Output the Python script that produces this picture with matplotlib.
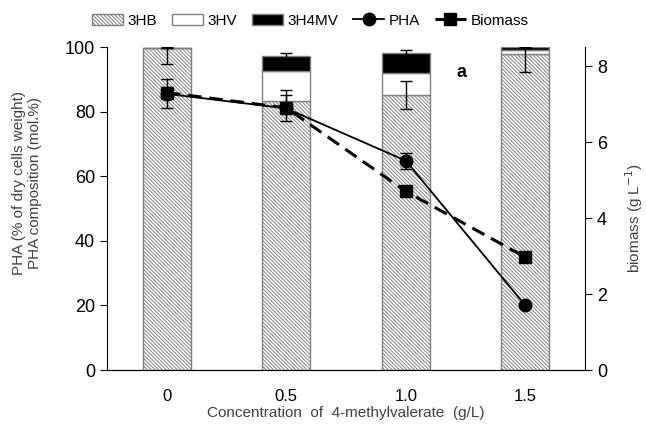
import matplotlib.pyplot as plt
import numpy as np

plt.rcParams['font.family'] = ['Liberation Sans', 'DejaVu Sans']
plt.rcParams['hatch.color'] = '#555555'
plt.rcParams['hatch.linewidth'] = 0.7

# data
conc = ["0", "0.5", "1.0", "1.5"]
hb = [99.7, 83.3, 85.1, 97.8]
hb_err_lo = [5.0, 3.5, 4.3, 5.4]
hb_err_hi = [0.3, 3.5, 4.3, 2.2]
hv = [0.0, 9.4, 6.7, 1.2]
h4mv = [0.0, 4.5, 6.2, 0.9]
h4mv_err = [0.0, 1.0, 1.0, 0.3]
pha = [85.5, 81.0, 64.8, 20.0]
pha_err = [4.5, 4.0, 2.5, 0.5]
biomass = [7.3, 6.9, 4.7, 2.97]
biomass_err = [0.15, 0.1, 0.1, 0.05]

x = np.arange(len(conc))
w = 0.4

fig = plt.figure(figsize=(6.46, 4.25), dpi=100)
ax = fig.add_axes([0.1656, 0.1294, 0.74, 0.76])

b1 = ax.bar(x, hb, w, color='white', edgecolor='#808080', hatch='\\' * 9, linewidth=1, label='3HB')
b2 = ax.bar(x, hv, w, bottom=hb, color='white', edgecolor='#808080', linewidth=1, label='3HV')
top2 = np.array(hb) + np.array(hv)
b3 = ax.bar(x, h4mv, w, bottom=top2, color='black', edgecolor='#808080', linewidth=1, label='3H4MV')

ax.errorbar(x, hb, yerr=[hb_err_lo, hb_err_hi], fmt='none', ecolor='black', elinewidth=1, capsize=4)
ax.errorbar(x, top2 + np.array(h4mv), yerr=h4mv_err, fmt='none', ecolor='black', elinewidth=1, capsize=4)
ax.errorbar(x, pha, yerr=pha_err, fmt='none', ecolor='black', elinewidth=1, capsize=4, zorder=3)
l1, = ax.plot(x, pha, '-o', color='black', markersize=9, linewidth=1.3, label='PHA', zorder=4)

ax.set_ylim(0, 100)
ax.set_xlim(-0.5, 3.5)
ax.set_xticks(x)
ax.set_xticklabels(conc)
ax.tick_params(axis='x', length=0, pad=14, labelsize=12)
ax.tick_params(axis='y', labelsize=13, direction='out', length=5)
ax.set_yticks([0, 20, 40, 60, 80, 100])
ax.spines['top'].set_visible(False)
ax.spines['right'].set_visible(False)
ax.set_xlabel('Concentration  of  4-methylvalerate  (g/L)', fontsize=11, color='#404040', labelpad=1)
ax.set_ylabel('PHA (% of dry cells weight)\nPHA composition (mol.%)', fontsize=11, color='#404040')
ax.yaxis.set_label_coords(-0.135, 0.58)

ax2 = ax.twinx()
ax2.errorbar(x, biomass, yerr=biomass_err, fmt='none', ecolor='black', elinewidth=1, capsize=4)
l2, = ax2.plot(x, biomass, '--s', color='black', markersize=9, linewidth=2.2, dashes=(4.5, 2.5), label='Biomass')
ax2.set_ylim(0, 8.5)
ax2.set_yticks([0, 2, 4, 6, 8])
ax2.tick_params(axis='y', labelsize=13, direction='out', length=5)
ax2.spines['top'].set_visible(False)
ax2.spines['left'].set_visible(False)
ax2.set_ylabel('biomass (g L$^{-1}$)', fontsize=11, color='#404040')
ax2.yaxis.set_label_coords(1.08, 0.47)

ax.text(2.47, 92, 'a', fontsize=13, fontweight='bold', ha='center', va='center')

fig.legend(handles=[b1, b2, b3, l1, l2], loc='upper center', bbox_to_anchor=(0.48, 1.0),
           ncol=5, frameon=False, fontsize=11, handlelength=2.05, columnspacing=0.95, handletextpad=0.3)

fig.savefig('out.png', dpi=100)
